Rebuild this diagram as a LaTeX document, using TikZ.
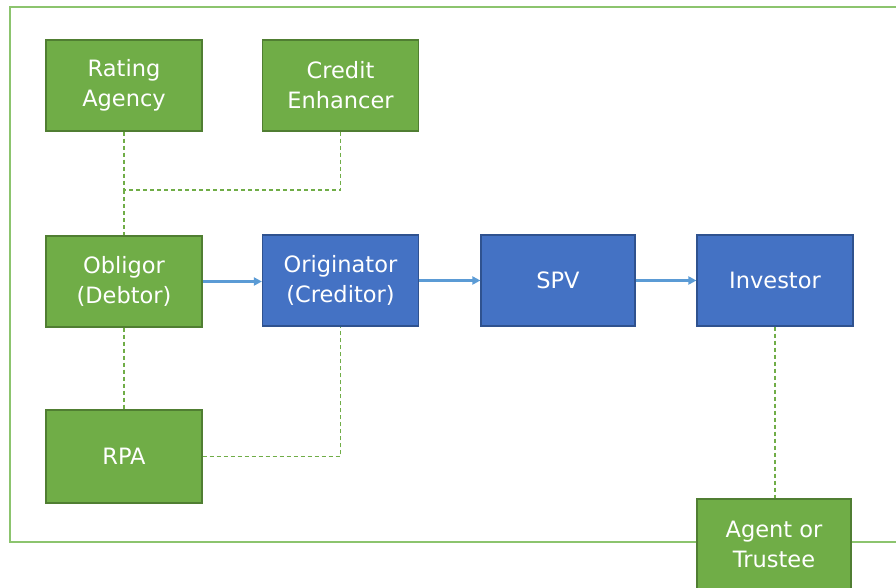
\documentclass[tikz,border=0pt]{standalone}
\usepackage{fontspec}
\setmainfont{DejaVu Sans}
\usepackage{xcolor}
\usetikzlibrary{arrows.meta, positioning}

\definecolor{boxgreen}{HTML}{70AD47}
\definecolor{edgegreen}{HTML}{507E32}
\definecolor{boxblue}{HTML}{4472C4}
\definecolor{edgeblue}{HTML}{2F528F}
\definecolor{framegreen}{HTML}{8CC46E}
\definecolor{arrowblue}{HTML}{5B9BD5}

\tikzset{
  party/.style={rectangle, draw=edgegreen, fill=boxgreen, line width=1.2pt,
    minimum width=156pt, minimum height=91pt, inner sep=0pt,
    text=white, align=center, font=\fontsize{22.5}{30}\selectfont},
  deal/.style={party, draw=edgeblue, fill=boxblue},
  link/.style={draw=boxgreen, dashed, dash pattern=on 4pt off 3pt, line width=1.6pt},
  flow/.style={draw=arrowblue, line width=2.2pt, -{Triangle[length=8pt,width=8pt]}}
}

\begin{document}
\begin{tikzpicture}[x=1pt,y=-1pt]
\useasboundingbox (0,0) rectangle (896,588);
\draw[framegreen, line width=1.8pt] (10,7) rectangle (905,542);

\node[party] (rating) at (124,85.5) {Rating\\Agency};
\node[party] (credit) at (340.5,85.5) {Credit\\Enhancer};
\node[party] (obligor) at (124,281.5) {Obligor\\(Debtor)};
\node[deal] (originator) at (340.5,280.5) {Originator\\(Creditor)};
\node[deal, minimum width=154pt] (spv) at (558,280.5) {SPV};
\node[deal] (investor) at (775,280.5) {Investor};
\node[party, minimum height=93pt] (rpa) at (124,456.5) {RPA};
\node[party, minimum width=154pt] (agent) at (774,544.5) {Agent or\\Trustee};
\coordinate (join) at (124,190);

\draw[link] (rating) -- (join);
\draw[link] (join) -- (obligor);
\draw[link] (credit.south) |- (join);
\draw[link] (obligor) -- (rpa);
\draw[link] (rpa.east) -| (originator.south);
\draw[link] (investor.south) -- (investor.south |- agent.north);

\draw[flow] (obligor) -- (obligor -| originator.west);
\draw[flow] (originator) -- (spv);
\draw[flow] (spv) -- (investor);
\end{tikzpicture}
\end{document}
